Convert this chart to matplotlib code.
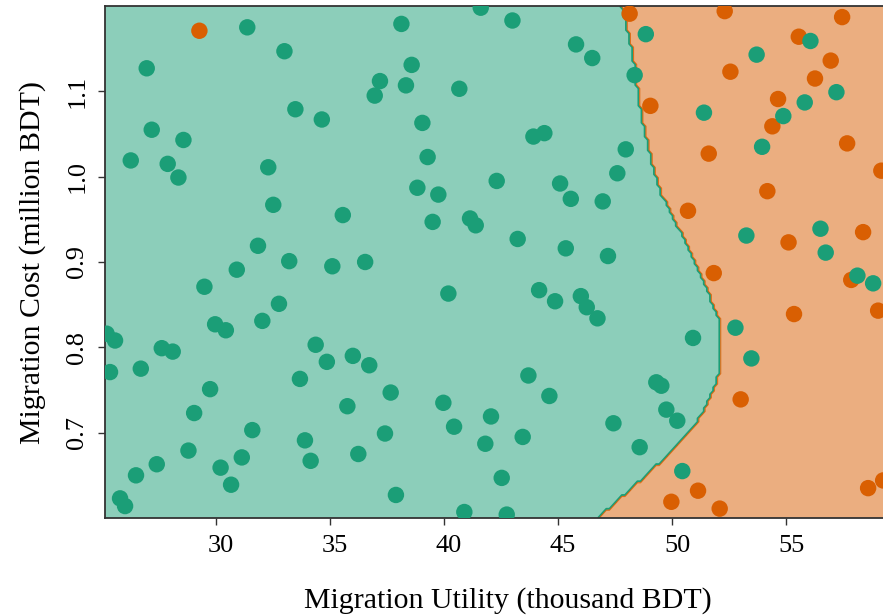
import numpy as np
import matplotlib
matplotlib.use("Agg")
import matplotlib.pyplot as plt
from matplotlib.transforms import ScaledTranslation

plt.rcParams["font.family"] = ["Liberation Serif", "DejaVu Serif"]

# Observed households: (utility in thousand BDT, cost in million BDT)
stay_utility = [31.37, 33.0, 26.96, 33.48, 34.64, 27.18, 28.57, 26.26, 27.88, 28.35,
                32.29, 32.51, 35.56, 31.84,
                41.61, 38.13, 43.0, 45.79, 46.5, 38.58, 37.19, 38.33, 36.96, 40.67,
                39.05, 43.92, 44.40, 39.28, 47.97, 47.6, 38.83, 39.75, 42.31, 45.09,
                45.56, 46.96, 39.5, 41.14, 41.39, 43.23, 45.34, 47.19, 36.54,
                48.85, 56.07, 53.71, 48.36, 57.21, 55.82, 51.4, 54.88, 53.95, 53.26,
                56.51, 56.74,
                58.13, 58.82, 52.78, 50.92, 53.48, 49.31, 49.53, 49.75, 50.23, 48.58,
                50.45,
                40.19, 44.17, 44.87, 46.0, 46.26, 46.73, 36.72, 43.7, 37.66, 39.97,
                44.62, 42.06, 40.44, 43.45, 41.81, 47.43, 37.41, 42.53, 37.89, 40.89,
                42.75,
                33.21, 35.1, 30.91, 29.49, 32.76, 32.03, 29.96, 30.43, 25.2, 25.57,
                27.62, 28.1, 25.35, 26.7, 34.37, 34.86, 36.0, 33.68, 29.74, 35.76,
                29.04, 31.59, 33.9, 36.24, 28.79, 31.13, 34.15, 27.4, 30.2, 26.49,
                30.66, 25.79, 26.01]
stay_cost = [1.175, 1.147, 1.127, 1.079, 1.067, 1.055, 1.043, 1.019, 1.015, 0.999,
             1.011, 0.967, 0.955, 0.919,
             1.198, 1.179, 1.183, 1.155, 1.139, 1.131, 1.112, 1.107, 1.095, 1.103,
             1.063, 1.047, 1.051, 1.023, 1.032, 1.004, 0.987, 0.979, 0.995, 0.992,
             0.974, 0.971, 0.947, 0.951, 0.943, 0.927, 0.916, 0.907, 0.900,
             1.167, 1.159, 1.143, 1.119, 1.099, 1.087, 1.075, 1.071, 1.035, 0.931,
             0.939, 0.911,
             0.884, 0.875, 0.823, 0.811, 0.787, 0.759, 0.755, 0.727, 0.714, 0.683,
             0.655,
             0.863, 0.867, 0.854, 0.860, 0.847, 0.834, 0.779, 0.767, 0.747, 0.735,
             0.743, 0.719, 0.707, 0.695, 0.687, 0.711, 0.699, 0.647, 0.627, 0.607,
             0.604,
             0.901, 0.895, 0.891, 0.871, 0.851, 0.831, 0.827, 0.820, 0.816, 0.808,
             0.799, 0.795, 0.771, 0.775, 0.803, 0.783, 0.790, 0.763, 0.751, 0.731,
             0.723, 0.703, 0.691, 0.675, 0.679, 0.671, 0.667, 0.663, 0.659, 0.650,
             0.639, 0.623, 0.614]

migrate_utility = [29.27, 48.14, 52.31, 57.46, 55.56, 56.96, 52.56, 56.27, 54.65, 49.05,
                   54.4, 57.68, 51.61, 59.18, 54.18, 50.7, 55.11, 58.38, 51.83, 57.86,
                   59.04, 55.35, 53.01, 51.14, 49.97, 52.09, 58.6, 59.26]
migrate_cost = [1.171, 1.191, 1.194, 1.187, 1.164, 1.136, 1.123, 1.115, 1.091, 1.083,
                1.059, 1.039, 1.027, 1.007, 0.983, 0.960, 0.923, 0.935, 0.887, 0.879,
                0.843, 0.839, 0.739, 0.632, 0.619, 0.611, 0.635, 0.644]

# Classifier decision boundary: utility threshold as a function of cost
boundary_cost = [0.600, 0.631, 0.655, 0.678, 0.701, 0.720, 0.748, 0.771, 0.830, 0.845,
                 0.865, 0.900, 0.935, 0.958, 0.981, 1.005, 1.028, 1.051, 1.078, 1.117,
                 1.145, 1.172, 1.200]
boundary_utility = [46.75, 48.07, 49.08, 49.96, 50.79, 51.27, 51.80, 52.11, 52.11, 51.89,
                    51.58, 51.01, 50.39, 49.96, 49.52, 49.25, 49.04, 48.82, 48.64, 48.42,
                    48.29, 48.07, 47.76]

GREEN = "#1b9e77"
ORANGE = "#d95f02"

x_lo, x_hi = 25.13, 60.5
y_lo, y_hi = 0.6, 1.2

W, H = 883, 616
fig = plt.figure(figsize=(W / 100, H / 100), dpi=100)
ax_left, ax_bottom = 105, 98
ax_w = (x_hi - x_lo) * 22.8
ax_h = 512
ax = fig.add_axes([ax_left / W, ax_bottom / H, ax_w / W, ax_h / H])

# Prediction grid for the shaded regions
gx = np.linspace(x_lo, x_hi, 260)
gy = np.linspace(y_lo, y_hi, 150)
xx, yy = np.meshgrid(gx, gy)
thresh = np.interp(yy, boundary_cost, boundary_utility)
zz = (xx > thresh).astype(float)

ax.contourf(xx, yy, zz, levels=[-0.5, 0.5, 1.5], colors=[GREEN, ORANGE], alpha=0.5)
ax.contour(xx, yy, zz, levels=[0.3], colors=[GREEN], linewidths=1.3)
ax.contour(xx, yy, zz, levels=[0.75], colors=[ORANGE], linewidths=0.8, alpha=0.8)

ax.scatter(migrate_utility, migrate_cost, s=140, c=ORANGE, edgecolors="none", zorder=3)
ax.scatter(stay_utility, stay_cost, s=140, c=GREEN, edgecolors="none", zorder=3)

ax.set_xlim(x_lo, x_hi)
ax.set_ylim(y_lo, y_hi)
ax.set_xticks([30, 35, 40, 45, 50, 55])
ax.set_yticks([0.7, 0.8, 0.9, 1.0, 1.1])
ax.set_yticklabels(["0.7", "0.8", "0.9", "1.0", "1.1"], rotation=90, va="center")

ax.tick_params(axis="both", direction="out", length=5, width=1.0, labelsize=19,
               color="#333333")
ax.tick_params(axis="x", pad=7)
ax.tick_params(axis="y", pad=7)
for sp in ax.spines.values():
    sp.set_color("#333333")
    sp.set_linewidth(1.3)

shift = ScaledTranslation(5 / 100, 0, fig.dpi_scale_trans)
for lbl in ax.get_xticklabels():
    lbl.set_transform(lbl.get_transform() + shift)

ax.set_xlabel("Migration Utility (thousand BDT)", fontsize=21.5, labelpad=22)
ax.set_ylabel("Migration Cost (million BDT)", fontsize=21.5, labelpad=15)

fig.savefig("out.png", dpi=100)
